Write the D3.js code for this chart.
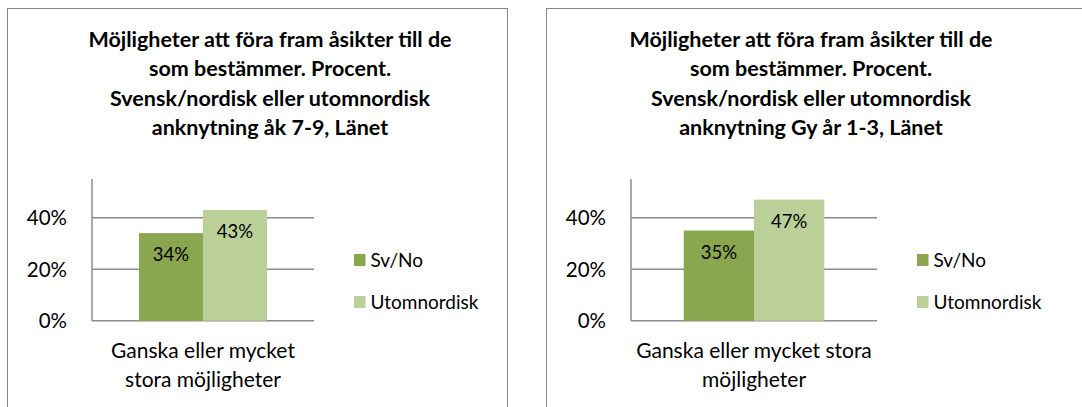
<!DOCTYPE html>
<html>
<head>
<meta charset="utf-8">
<script src="https://cdn.jsdelivr.net/npm/d3@7"></script>
<style>
  body { margin: 0; background: #fff; }
  svg { display: block; font-family: Lato, "Open Sans", sans-serif; }
</style>
</head>
<body>
<svg id="chart" width="1082" height="407"></svg>
<script>
// data
var series = ["Sv/No", "Utomnordisk"];
var colors = ["#8aa64f", "#bad098"];
var yTicks = [0, 0.2, 0.4];

var titleLeft = ["Möjligheter att föra fram åsikter till de", "som bestämmer. Procent.", "Svensk/nordisk eller utomnordisk", "anknytning åk 7-9, Länet"];
var catLeft = ["Ganska eller mycket", "stora möjligheter"];
var valuesLeft = [0.34, 0.43];

var titleRight = ["Möjligheter att föra fram åsikter till de", "som bestämmer. Procent.", "Svensk/nordisk eller utomnordisk", "anknytning Gy år 1-3, Länet"];
var catRight = ["Ganska eller mycket stora", "möjligheter"];
var valuesRight = [0.35, 0.47];

var svg = d3.select("#chart");

// panel layout (pixels)
var panels = [
  { box: [7.5, 8.5, 500, 420], title: titleLeft, titleX: 270, cat: catLeft, values: valuesLeft,
    x0: 92, x1: 314, pad: 47, legX: 354 },
  { box: [546.5, 8.5, 560, 420], title: titleRight, titleX: 811, cat: catRight, values: valuesRight,
    x0: 631, x1: 877, pad: 52.7, legX: 917 }
];

var y = d3.scaleLinear().domain([0, 0.55]).range([320.7, 179]);

panels.forEach(function(p){
  var g = svg.append("g");

  g.append("rect")
    .attr("x", p.box[0]).attr("y", p.box[1])
    .attr("width", p.box[2]).attr("height", p.box[3])
    .attr("fill", "#fff")
    .attr("stroke", "#868686")
    .attr("stroke-width", 1);

  // title
  g.append("text")
    .attr("text-anchor", "middle")
    .attr("font-weight", "bold")
    .attr("font-size", 21.5)
    .attr("fill", "#000")
    .selectAll("tspan")
    .data(p.title)
    .enter()
    .append("tspan")
    .attr("x", p.titleX)
    .attr("y", function(d, i){ return 47 + i * 29.3; })
    .text(function(d){ return d; });

  // gridlines
  g.selectAll("line.grid")
    .data(yTicks)
    .enter()
    .append("line")
    .attr("class", "grid")
    .attr("x1", p.x0).attr("x2", p.x1)
    .attr("y1", function(d){ return y(d); })
    .attr("y2", function(d){ return y(d); })
    .attr("stroke", "#8c8c8c")
    .attr("stroke-width", 1.5);

  // y axis line
  g.append("line")
    .attr("x1", p.x0).attr("x2", p.x0)
    .attr("y1", y.range()[1]).attr("y2", y(0))
    .attr("stroke", "#8c8c8c")
    .attr("stroke-width", 1.5);

  // tick labels
  g.selectAll("text.tick")
    .data(yTicks)
    .enter()
    .append("text")
    .attr("class", "tick")
    .attr("x", p.x0 - 25)
    .attr("y", function(d){ return y(d) + 7.5; })
    .attr("text-anchor", "end")
    .attr("font-size", 20.5)
    .attr("fill", "#000")
    .text(d3.format(".0%"));

  var x = d3.scaleBand()
    .domain(series)
    .range([p.x0 + p.pad, p.x1 - p.pad])
    .padding(0);

  g.selectAll("rect.bar")
    .data(p.values)
    .enter()
    .append("rect")
    .attr("class", "bar")
    .attr("x", function(d, i){ return x(series[i]); })
    .attr("y", function(d){ return y(d); })
    .attr("width", x.bandwidth())
    .attr("height", function(d){ return y(0) - y(d); })
    .attr("fill", function(d, i){ return colors[i]; });

  g.selectAll("text.val")
    .data(p.values)
    .enter()
    .append("text")
    .attr("class", "val")
    .attr("x", function(d, i){ return x(series[i]) + x.bandwidth() / 2; })
    .attr("y", function(d){ return y(d) + 28; })
    .attr("text-anchor", "middle")
    .attr("font-size", 18.5)
    .attr("fill", "#000")
    .text(d3.format(".0%"));

  // category label
  g.append("text")
    .attr("text-anchor", "middle")
    .attr("font-size", 21)
    .attr("fill", "#000")
    .selectAll("tspan")
    .data(p.cat)
    .enter()
    .append("tspan")
    .attr("x", (p.x0 + p.x1) / 2)
    .attr("y", function(d, i){ return 358 + i * 29; })
    .text(function(d){ return d; });

  // legend
  var leg = g.selectAll("g.leg")
    .data(series)
    .enter()
    .append("g")
    .attr("class", "leg")
    .attr("transform", function(d, i){ return "translate(" + p.legX + "," + (254 + i * 42) + ")"; });
  leg.append("rect")
    .attr("width", 11.5).attr("height", 12)
    .attr("fill", function(d, i){ return colors[i]; });
  leg.append("text")
    .attr("x", 16.5)
    .attr("y", 12.5)
    .attr("font-size", 19)
    .attr("fill", "#000")
    .text(function(d){ return d; });
});
</script>
</body>
</html>
